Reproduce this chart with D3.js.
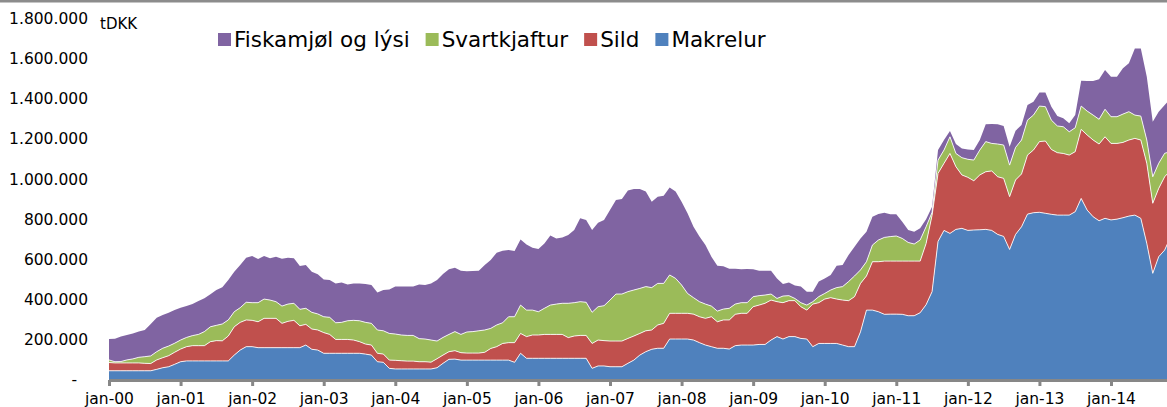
<!DOCTYPE html>
<html lang="fo">
<head>
<meta charset="utf-8"/>
<title>Útflutningur</title>
<script src="https://d3js.org/d3.v7.min.js"></script>
<style>
  body { margin: 0; background: #fff; }
  svg { display: block; font-family: "DejaVu Sans", Verdana, sans-serif; }
</style>
</head>
<body>
<svg id="chart" width="1167" height="407"></svg>

<script>
// monthly values, thousand tDKK, jan-00 .. nov-14
const months = d3.timeMonth.range(new Date(2000, 0, 1), new Date(2014, 11, 1))

const makrelur = [
  46,46,46,46,46,46,46,46,53,61,66,78,
  91,95,95,95,95,95,95,95,95,124,149,166,
  166,161,161,161,161,161,161,161,161,174,153,149,
  133,133,133,133,133,133,133,129,124,91,88,58,
  55,55,55,55,55,55,55,61,83,103,104,99,
  99,99,99,99,99,99,99,99,88,133,108,108,
  108,108,108,108,108,108,108,108,108,58,70,70,
  66,66,66,83,99,124,141,153,158,158,204,204,
  204,204,199,186,174,166,158,158,154,171,174,174,
  174,177,177,199,216,204,216,216,207,204,166,182,
  182,182,182,174,166,166,240,348,348,340,327,328,
  328,327,320,320,335,375,440,690,745,730,750,755,
  745,747,748,750,745,725,715,650,725,763,826,833,
  835,830,825,821,821,821,838,904,846,813,793,805,
  797,801,808,816,821,805,680,531,614,647,714
]
const sild = [
  41,39,39,39,39,39,37,36,47,50,55,60,
  63,71,76,76,76,96,101,100,124,141,138,133,
  131,129,146,146,146,121,131,136,109,103,101,100,
  103,94,69,69,69,66,58,50,50,42,41,41,
  43,41,39,39,36,36,34,45,41,38,42,37,
  35,35,35,39,58,67,83,87,98,99,108,116,
  116,119,119,119,119,103,111,114,114,124,129,126,
  128,128,128,124,120,108,104,96,116,124,128,128,
  128,128,129,129,133,149,132,141,145,156,158,158,
  191,196,205,199,174,181,179,179,158,144,212,203,
  221,228,221,224,229,249,241,170,241,249,265,264,
  264,265,272,272,257,305,380,339,334,398,312,266,
  264,245,273,287,296,287,289,263,271,263,294,312,
  352,360,323,311,307,299,299,344,374,382,382,406,
  381,377,375,379,382,390,399,349,340,365,331
]
const svartkjaftur = [
  13,6,7,15,20,28,33,38,41,47,48,45,
  45,46,50,56,70,74,76,84,80,75,73,88,
  88,95,96,91,83,86,86,85,82,80,83,80,
  79,85,83,85,93,98,104,108,108,116,116,133,
  131,128,128,128,115,113,110,88,88,86,95,91,
  105,107,111,111,100,108,103,129,129,141,132,124,
  116,130,146,151,155,171,166,168,165,155,166,174,
  204,234,234,233,229,224,220,211,207,199,191,174,
  141,99,82,75,71,53,53,54,58,51,53,53,
  50,47,41,30,16,33,25,11,20,25,12,30,
  28,38,57,67,95,103,67,71,83,108,118,122,
  125,113,93,85,105,83,15,66,66,83,66,86,
  90,103,124,150,137,163,166,157,162,169,174,174,
  177,171,146,133,133,116,119,116,119,124,123,137,
  133,133,141,141,116,119,116,132,125,117,92
]
const fiskamjol = [
  104,114,124,124,127,128,133,159,169,166,166,166,
  161,156,157,166,166,162,176,183,199,199,213,222,
  232,217,214,208,224,236,231,224,216,216,202,197,
  186,186,196,198,181,184,186,191,191,187,203,219,
  236,242,244,244,269,269,282,304,316,324,318,317,
  302,302,299,324,340,360,359,332,327,327,327,311,
  312,323,346,327,327,340,362,415,410,410,418,427,
  448,468,473,503,503,495,473,428,432,437,436,432,
  415,399,353,324,294,246,226,214,197,176,166,168,
  136,124,121,116,100,60,65,64,80,67,50,75,
  75,75,109,107,132,146,157,149,141,129,123,111,
  108,83,62,61,58,37,28,50,50,29,47,46,
  49,50,50,86,97,98,95,92,83,75,75,67,
  67,70,67,49,42,42,63,126,150,170,199,195,
  199,199,228,241,332,337,315,274,257,240,265
]

const seriesNames = ["Makrelur", "Sild", "Svartkjaftur", "Fiskamjøl og lýsi"]
const seriesColors = ["#4f81bd", "#c0504d", "#9bbb59", "#8064a2"]
const legendNames = ["Fiskamjøl og lýsi", "Svartkjaftur", "Sild", "Makrelur"]
const yTicks = [0, 200, 400, 600, 800, 1000, 1200, 1400, 1600, 1800]
const xTickLabels = ["jan-00","jan-01","jan-02","jan-03","jan-04","jan-05","jan-06",
                     "jan-07","jan-08","jan-09","jan-10","jan-11","jan-12","jan-13","jan-14"]

const rows = months.map((m, i) => ({
  month: m,
  "Makrelur": makrelur[i],
  "Sild": sild[i],
  "Svartkjaftur": svartkjaftur[i],
  "Fiskamjøl og lýsi": fiskamjol[i]
}))
const color = d3.scaleOrdinal(seriesNames, seriesColors)
const layers = d3.stack().keys(seriesNames)(rows)

const svg = d3.select("#chart")
const last = months.length - 1
const x = d3.scaleLinear().domain([0, last]).range([109, 109 + last * 1002 / 168])
const y = d3.scaleLinear().domain([0, 1800]).range([380, 18.5])

// frame line at the very top
svg.append("rect").attr("x", 0).attr("y", 0).attr("width", 1167).attr("height", 2.5)
   .attr("fill", "#8c8c8c")

const area = d3.area()
  .x((d, i) => x(i))
  .y0(d => y(d[0]))
  .y1(d => y(d[1]))

svg.append("g").selectAll("path")
  .data(layers)
  .join("path")
  .attr("fill", d => color(d.key))
  .attr("d", area)

// thin white seams between the layers
const seam = d3.line().x((d, i) => x(i)).y(d => y(d[1]))
svg.append("g").selectAll("path")
  .data(layers.slice(0, 3))
  .join("path")
  .attr("fill", "none")
  .attr("stroke", "#fff")
  .attr("stroke-width", 1)
  .attr("stroke-opacity", 0.85)
  .attr("d", seam)

// y axis
const loc = d3.formatLocale({decimal: ",", thousands: ".", grouping: [3], currency: ["", ""]})
const fmt = loc.format(",")
const yAxis = svg.append("g")
  .attr("transform", "translate(91,0)")
  .call(d3.axisLeft(y).tickValues(yTicks).tickSize(0).tickPadding(3)
          .tickFormat(d => d === 0 ? "-" : fmt(d * 1000)))
yAxis.select(".domain").remove()
yAxis.selectAll("text")
  .attr("font-family", "DejaVu Sans, Verdana, sans-serif")
  .attr("font-size", "15.5px")
  .attr("fill", "#000")
yAxis.selectAll(".tick").filter(d => d === 0).select("text").attr("x", -14)

svg.append("text")
  .attr("x", 100).attr("y", 29)
  .attr("font-size", "15px")
  .text("tDKK")

// x axis
const xAxis = svg.append("g")
  .attr("transform", "translate(0,380)")
  .call(d3.axisBottom(x).tickValues(d3.range(0, 169, 12))
          .tickFormat((d, i) => xTickLabels[i])
          .tickSize(6).tickSizeOuter(0).tickPadding(7))
xAxis.select(".domain").attr("stroke", "#878787").attr("stroke-width", 3)
xAxis.selectAll(".tick line").attr("stroke", "#878787").attr("stroke-width", 3)
xAxis.selectAll("text")
  .attr("font-family", "DejaVu Sans, Verdana, sans-serif")
  .attr("font-size", "15.5px")
  .attr("fill", "#000")

// legend
const legend = svg.append("g").attr("font-size", "21.5px")
let lx = 218
legendNames.forEach(name => {
  legend.append("rect")
    .attr("x", lx).attr("y", 33).attr("width", 13).attr("height", 13)
    .attr("fill", color(name))
  const t = legend.append("text")
    .attr("x", lx + 16).attr("y", 47)
    .text(name)
  lx += 16 + t.node().getComputedTextLength() + 16
})
</script>
</body>
</html>
